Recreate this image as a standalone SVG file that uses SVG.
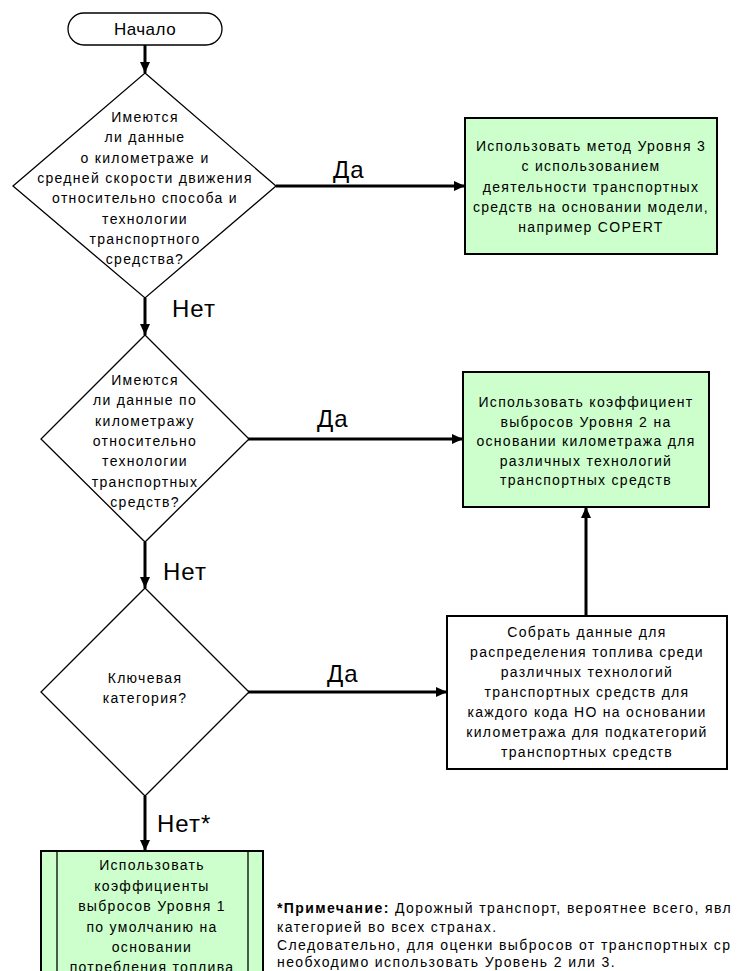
<svg xmlns="http://www.w3.org/2000/svg" width="737" height="971" viewBox="0 0 737 971">
<style>
  .t { font-family: "Liberation Sans", Arial, sans-serif; font-size: 14px; letter-spacing: 1.3px; text-anchor: middle; fill: #000; }
  .lbl { font-family: "Liberation Sans", Arial, sans-serif; font-size: 24px; letter-spacing: 1px; fill: #000; }
  .note { font-family: "Liberation Sans", Arial, sans-serif; font-size: 14px; letter-spacing: 1.4px; fill: #000; }
  .dia { fill: #fff; stroke: #000; stroke-width: 1.3; }
  .box { stroke: #000; stroke-width: 2; }
  .green { fill: #ccffcc; }
  .white { fill: #fff; }
  .conn { fill: none; stroke: #000; stroke-width: 3; }
</style>
<defs>
  <marker id="arr" markerUnits="userSpaceOnUse" markerWidth="12" markerHeight="12" viewBox="0 0 12 12" refX="11" refY="6" orient="auto">
    <path d="M0,1 L11,6 L0,11 Z" fill="#000"/>
  </marker>
</defs>
<rect width="737" height="971" fill="#fff"/>

<g id="connectors">
  <line class="conn" x1="145" y1="45" x2="145" y2="73" marker-end="url(#arr)"/>
  <line class="conn" x1="276" y1="186" x2="465" y2="186" marker-end="url(#arr)"/>
  <line class="conn" x1="145" y1="298" x2="145" y2="335" marker-end="url(#arr)"/>
  <line class="conn" x1="248" y1="439" x2="463" y2="439" marker-end="url(#arr)"/>
  <line class="conn" x1="145" y1="542" x2="145" y2="588" marker-end="url(#arr)"/>
  <line class="conn" x1="248" y1="692" x2="447" y2="692" marker-end="url(#arr)"/>
  <line class="conn" x1="586" y1="616" x2="586" y2="507" marker-end="url(#arr)"/>
  <line class="conn" x1="145" y1="796" x2="145" y2="851" marker-end="url(#arr)"/>
  <text class="lbl" x="333" y="178">Да</text>
  <text class="lbl" x="172" y="317">Нет</text>
  <text class="lbl" x="317" y="427">Да</text>
  <text class="lbl" x="163" y="580">Нет</text>
  <text class="lbl" x="327" y="682">Да</text>
  <text class="lbl" x="157" y="832">Нет*</text>
</g>

<g id="start">
  <rect x="68" y="13" width="154" height="32" rx="16" ry="16" fill="#fff" stroke="#000" stroke-width="1.3"/>
  <text class="t" x="145" y="35" style="font-size:17px;letter-spacing:0.5px">Начало</text>
</g>

<g id="decision1">
  <polygon class="dia" points="145,73 276,186 145,298 13,186"/>
  <text class="t" x="145" y="122">Имеются</text>
  <text class="t" x="145" y="142">ли данные</text>
  <text class="t" x="145" y="163">о километраже и</text>
  <text class="t" x="145" y="183">средней скорости движения</text>
  <text class="t" x="145" y="203">относительно способа и</text>
  <text class="t" x="145" y="224">технологии</text>
  <text class="t" x="145" y="244">транспортного</text>
  <text class="t" x="145" y="264">средства?</text>
</g>

<g id="tier3">
  <rect class="box green" x="465" y="118" width="252" height="136"/>
  <text class="t" x="591" y="151">Использовать метод Уровня 3</text>
  <text class="t" x="591" y="171">с использованием</text>
  <text class="t" x="591" y="192">деятельности транспортных</text>
  <text class="t" x="591" y="212">средств на основании модели,</text>
  <text class="t" x="591" y="232">например COPERT</text>
</g>

<g id="decision2">
  <polygon class="dia" points="145,335 249,439 145,542 41,439"/>
  <text class="t" x="145" y="385">Имеются</text>
  <text class="t" x="145" y="405">ли данные по</text>
  <text class="t" x="145" y="426">километражу</text>
  <text class="t" x="145" y="446">относительно</text>
  <text class="t" x="145" y="466">технологии</text>
  <text class="t" x="145" y="487">транспортных</text>
  <text class="t" x="145" y="507">средств?</text>
</g>

<g id="tier2">
  <rect class="box green" x="463" y="372" width="246" height="135"/>
  <text class="t" x="586" y="407">Использовать коэффициент</text>
  <text class="t" x="586" y="427">выбросов Уровня 2 на</text>
  <text class="t" x="586" y="446">основании километража для</text>
  <text class="t" x="586" y="466">различных технологий</text>
  <text class="t" x="586" y="485">транспортных средств</text>
</g>

<g id="decision3">
  <polygon class="dia" points="145,588 249,692 145,796 41,692"/>
  <text class="t" x="145" y="683">Ключевая</text>
  <text class="t" x="145" y="703">категория?</text>
</g>

<g id="collect">
  <rect class="box white" x="447" y="616" width="280" height="153"/>
  <text class="t" x="587" y="637">Собрать данные для</text>
  <text class="t" x="587" y="657">распределения топлива среди</text>
  <text class="t" x="587" y="677">различных технологий</text>
  <text class="t" x="587" y="697">транспортных средств для</text>
  <text class="t" x="587" y="717">каждого кода НО на основании</text>
  <text class="t" x="587" y="737">километража для подкатегорий</text>
  <text class="t" x="587" y="757">транспортных средств</text>
</g>

<g id="tier1">
  <rect class="box green" x="41" y="851" width="222" height="130"/>
  <line x1="57" y1="851" x2="57" y2="981" stroke="#000" stroke-width="1.3"/>
  <line x1="248" y1="851" x2="248" y2="981" stroke="#000" stroke-width="1.3"/>
  <text class="t" x="152" y="870">Использовать</text>
  <text class="t" x="152" y="891">коэффициенты</text>
  <text class="t" x="152" y="911">выбросов Уровня 1</text>
  <text class="t" x="152" y="932">по умолчанию на</text>
  <text class="t" x="152" y="952">основании</text>
  <text class="t" x="152" y="972">потребления топлива</text>
</g>

<g id="note">
  <text class="note" x="277" y="913"><tspan font-weight="bold">*Примечание:</tspan> Дорожный транспорт, вероятнее всего, явл</text>
  <text class="note" x="277" y="932">категорией во всех странах.</text>
  <text class="note" x="277" y="950">Следовательно, для оценки выбросов от транспортных ср</text>
  <text class="note" x="277" y="967">необходимо использовать Уровень 2 или 3.</text>
</g>
</svg>
